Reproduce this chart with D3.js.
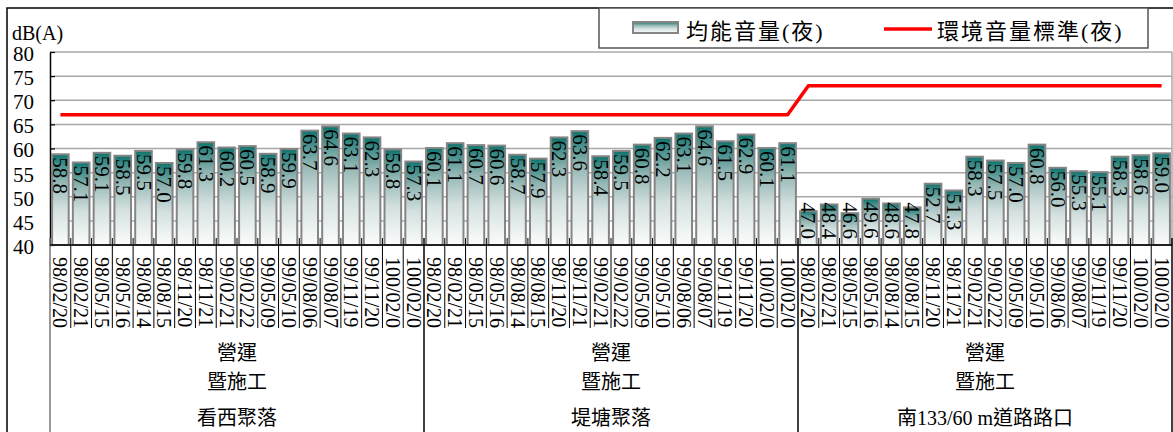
<!DOCTYPE html>
<html>
<head>
<meta charset="utf-8">
<script src="https://cdn.jsdelivr.net/npm/d3@7"></script>
<style>
  html, body { margin: 0; padding: 0; background: #fff; }
  svg { display: block; }
  text { font-family: "Liberation Serif", "Noto Sans CJK TC", serif; fill: #000; }
</style>
</head>
<body>
<svg id="chart" width="1173" height="432"></svg>
<script>
// Survey dates (same schedule at every station)
const dates = ["98/02/20","98/02/21","98/05/15","98/05/16","98/08/14","98/08/15",
  "98/11/20","98/11/21","99/02/21","99/02/22","99/05/09","99/05/10",
  "99/08/06","99/08/07","99/11/19","99/11/20","100/02/0","100/02/0"];

// Stations
const stations = ["看西聚落", "堤塘聚落", "南133/60 m道路路口"];
const phaseLabel = ["營運", "暨施工"];

// Night-time equivalent sound level, dB(A)
const kanxi = [58.8,57.1,59.1,58.5,59.5,57.0,59.8,61.3,60.2,60.5,58.9,59.9,63.7,64.6,63.1,62.3,59.8,57.3];
const ditang = [60.1,61.1,60.7,60.6,58.7,57.9,62.3,63.6,58.4,59.5,60.8,62.2,63.1,64.6,61.5,62.9,60.1,61.1];
const road = [47.0,48.4,46.6,49.6,48.6,47.8,52.7,51.3,58.3,57.5,57.0,60.8,56.0,55.3,55.1,58.3,58.6,59.0];

// Night-time noise standard per station
const standards = [67, 67, 73];

const yTicks = [40,45,50,55,60,65,70,75,80];
const legendNames = ["均能音量(夜)", "環境音量標準(夜)"];

const seriesByStation = [kanxi, ditang, road];
const rows = [];
seriesByStation.forEach((vals, s) => {
  vals.forEach((v, i) => rows.push({ id: s * dates.length + i, station: s, date: dates[i], value: v, std: standards[s] }));
});

const svg = d3.select("#chart");
const plotLeft = 50, plotRight = 1172, plotTop = 52, plotBottom = 245;

const x = d3.scaleBand().domain(rows.map(d => d.id)).range([plotLeft, plotRight]).paddingInner(0.2).paddingOuter(0.1);
const y = d3.scaleLinear().domain([40, 80]).range([plotBottom, plotTop]);
const half = (x.step() - x.bandwidth()) / 2;
const boundary = i => (i < rows.length ? x(i) - half : x(rows.length - 1) + x.bandwidth() + half);

// Bar gradient: teal cap fading to white
const defs = svg.append("defs");
const grad = defs.append("linearGradient").attr("id", "barFill").attr("x1", 0).attr("y1", 0).attr("x2", 0).attr("y2", 1);
[[0, "#0e736d"], [0.1, "#3e8b87"], [0.3, "#93b6b3"], [0.6, "#d3e0df"], [1, "#fbfcfc"]]
  .forEach(([o, c]) => grad.append("stop").attr("offset", o).attr("stop-color", c));

// Outer frame
svg.append("path").attr("d", `M7,432V8H1173`).attr("fill", "none").attr("stroke", "#000").attr("stroke-width", 1.5);

// Grid
svg.append("g").selectAll("line").data(yTicks.slice(1)).join("line")
  .attr("x1", plotLeft).attr("x2", plotRight).attr("y1", d => y(d)).attr("y2", d => y(d))
  .attr("stroke", "#a8a8a8").attr("stroke-width", 1.5);
svg.append("line").attr("x1", plotRight).attr("x2", plotRight).attr("y1", plotTop).attr("y2", plotBottom)
  .attr("stroke", "#a8a8a8").attr("stroke-width", 1.5);

// Y axis
const yAxis = svg.append("g").attr("transform", `translate(${plotLeft},0)`)
  .call(d3.axisLeft(y).tickValues(yTicks).tickSizeInner(-5).tickSizeOuter(0).tickPadding(16));
yAxis.select(".domain").attr("stroke", "#000").attr("stroke-width", 1.5);
yAxis.selectAll(".tick line").attr("stroke", "#000").attr("stroke-width", 1.2);
yAxis.selectAll(".tick text").attr("font-size", 21).attr("dy", "0.4em")
  .attr("font-family", "Liberation Serif").attr("fill", "#000");

svg.append("text").attr("x", 12).attr("y", 40).attr("font-size", 20).text("dB(A)");

// Bars
svg.append("g").selectAll("rect").data(rows).join("rect")
  .attr("x", d => x(d.id)).attr("width", x.bandwidth())
  .attr("y", d => y(d.value)).attr("height", d => y(40) - y(d.value))
  .attr("fill", "url(#barFill)").attr("stroke", "#858585").attr("stroke-width", 2);

// Category ticks and date-column separators
svg.append("g").selectAll("line").data(d3.range(rows.length + 1)).join("line")
  .attr("x1", boundary).attr("x2", boundary)
  .attr("y1", plotBottom - 7)
  .attr("y2", i => (i % dates.length === 0 ? 432 : 328))
  .attr("stroke", i => (i === 0 ? "#777" : "#000")).attr("stroke-width", i => (i % dates.length === 0 ? 1.5 : 1));

// Bottom axis line
svg.append("line").attr("x1", plotLeft).attr("x2", plotRight).attr("y1", plotBottom).attr("y2", plotBottom)
  .attr("stroke", "#000").attr("stroke-width", 1.5);

// Standard line
const line = d3.line().x(d => x(d.id) + x.bandwidth() / 2).y(d => y(d.std));
svg.append("path").datum(rows).attr("d", line)
  .attr("fill", "none").attr("stroke", "#ff0000").attr("stroke-width", 3.5).attr("stroke-linejoin", "round");

// Value labels, rotated inside the bars
const vlab = svg.append("g").selectAll("text").data(rows).join("text")
  .attr("font-size", 21).attr("dominant-baseline", "central")
  .text(d => d.value.toFixed(1));
vlab.each(function (d) {
  const len = this.getComputedTextLength();
  const start = Math.min(y(d.value) + 3, plotBottom - 6 - len);
  const cx = x(d.id) + x.bandwidth() / 2;
  d3.select(this).attr("transform", `translate(${cx},${start}) rotate(90)`);
});

// Date labels
svg.append("g").selectAll("text").data(rows).join("text")
  .attr("font-size", 20).attr("dominant-baseline", "central")
  .attr("transform", d => `translate(${x(d.id) + x.bandwidth() / 2},257) rotate(90)`)
  .text(d => d.date);

// Station group labels
const groupCenter = s => (boundary(s * dates.length) + boundary((s + 1) * dates.length)) / 2;
const g = svg.append("g").selectAll("g").data(stations).join("g");
g.append("text").attr("x", (d, s) => groupCenter(s)).attr("y", 360).attr("text-anchor", "middle").attr("font-size", 20).text(phaseLabel[0]);
g.append("text").attr("x", (d, s) => groupCenter(s)).attr("y", 389).attr("text-anchor", "middle").attr("font-size", 20).text(phaseLabel[1]);
g.append("text").attr("x", (d, s) => groupCenter(s)).attr("y", 425).attr("text-anchor", "middle").attr("font-size", 20).text(d => d);

// Legend
svg.append("rect").attr("x", 599).attr("y", 8).attr("width", 549).attr("height", 40)
  .attr("fill", "#fff").attr("stroke", "#555").attr("stroke-width", 1.5);
svg.append("rect").attr("x", 633).attr("y", 22).attr("width", 45).attr("height", 11)
  .attr("fill", "url(#barFill)").attr("stroke", "#858585").attr("stroke-width", 2);
svg.append("text").attr("x", 686).attr("y", 39).attr("font-size", 22).attr("letter-spacing", 2).text(legendNames[0]);
svg.append("line").attr("x1", 884).attr("x2", 932).attr("y1", 29).attr("y2", 29)
  .attr("stroke", "#ff0000").attr("stroke-width", 3.5);
svg.append("text").attr("x", 937).attr("y", 39).attr("font-size", 22).attr("letter-spacing", 2).text(legendNames[1]);
</script>
</body>
</html>
